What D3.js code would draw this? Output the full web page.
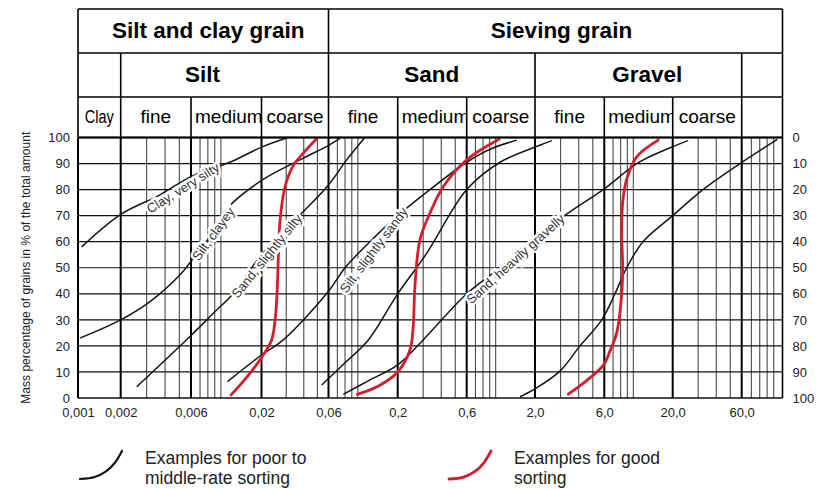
<!DOCTYPE html>
<html><head><meta charset="utf-8">
<script src="https://cdn.jsdelivr.net/npm/d3@7"></script>
<style>
body{margin:0;background:#fff;}
svg text{font-family:"Liberation Sans",Arial,Helvetica,sans-serif;}
</style></head><body>
<svg id="chart" width="821" height="489"></svg>
<script>
// ---------------- DATA ----------------
const boundaries = [0.001,0.002,0.006,0.02,0.06,0.2,0.6,2,6,20,60];
const maxD = 115;
const tickLabels = ["0,001","0,002","0,006","0,02","0,06","0,2","0,6","2,0","6,0","20,0","60,0"];
const minorTicks = [0.003,0.004,0.005,0.007,0.008,0.009,0.01,0.03,0.04,0.05,0.07,0.08,0.09,0.1,
  0.3,0.4,0.5,0.7,0.8,0.9,1,3,4,5,7,8,9,10,30,40,50,70,80,90,100];
const pctTicks = [0,10,20,30,40,50,60,70,80,90,100];

const headerRow1 = [
  {label:"Silt and clay grain", from:0.001, to:0.06},
  {label:"Sieving grain", from:0.06, to:maxD}
];
const headerRow2 = [
  {label:"", from:0.001, to:0.002},
  {label:"Silt", from:0.002, to:0.06},
  {label:"Sand", from:0.06, to:2},
  {label:"Gravel", from:2, to:60},
  {label:"", from:60, to:maxD}
];
const headerRow3 = [
  {label:"Clay", from:0.001, to:0.002},
  {label:"fine", from:0.002, to:0.006},
  {label:"medium", from:0.006, to:0.02},
  {label:"coarse", from:0.02, to:0.06},
  {label:"fine", from:0.06, to:0.2},
  {label:"medium", from:0.2, to:0.6},
  {label:"coarse", from:0.6, to:2},
  {label:"fine", from:2, to:6},
  {label:"medium", from:6, to:20},
  {label:"coarse", from:20, to:60},
  {label:"", from:60, to:maxD}
];

// grain size (mm), mass percentage passing (%)
const clayVerySilty = [[0.00106,58],[0.002,70.5],[0.0037,78],[0.006,85],[0.012,90.8],[0.02,96.3],[0.0302,99.8]];
const siltClayey = [[0.00103,23],[0.002,30],[0.00316,37],[0.00519,48],[0.006,52.5],[0.0083,62],[0.011,72.5],[0.02,83.5],[0.0376,91.4],[0.06,97],[0.0733,99.7]];
const sandSlightlySilty = [[0.00257,4.3],[0.006,24],[0.00878,32.5],[0.0124,40.2],[0.02,55],[0.0376,70.2],[0.06,81.8],[0.0823,91.4],[0.113,100]];
const siltSlightlySandy = [[0.0112,6.3],[0.02,16.5],[0.0286,22.3],[0.06,41],[0.08,50],[0.1235,60],[0.2,70],[0.334,80],[0.6,90.5],[0.905,95.5],[1.45,99]];
const curveA = [[0.0537,5],[0.08,13.5],[0.12,22.3],[0.2,40],[0.317,55.5],[0.6,80],[1.08,90.5],[2.16,97],[2.61,98.8]];
const sandHeavilyGravelly = [[0.0776,1.4],[0.119,6.5],[0.2,12.7],[0.3,22.3],[0.6,40],[1.08,50],[3.13,69.6],[5.9,80],[11.25,90.7],[25.6,98.8]];
const curveD = [[1.535,0.5],[2,3.5],[2.97,10.3],[4.08,20],[5.76,30],[7.24,40],[8.9,50],[11.86,60],[20,70],[32.4,80],[58.4,90],[105.8,99.3]];
const red1 = [[0.0119,1.2],[0.0153,7.5],[0.02,15.5],[0.0236,22.3],[0.025,30],[0.0258,40],[0.0264,55],[0.0271,68],[0.0294,81],[0.0335,89],[0.0397,94],[0.0494,99.5]];
const red2 = [[0.099,1.4],[0.142,4.5],[0.2,10],[0.243,18.4],[0.256,27.4],[0.263,42.7],[0.285,60.7],[0.334,70.9],[0.413,81.1],[0.6,91.4],[1.06,99.3]];
const red3 = [[3.39,1.5],[4.49,6.5],[5.9,12.5],[6.63,18],[7.46,25],[8.15,40],[8.29,50],[8.15,63],[8.29,75],[8.9,84],[10.6,92.6],[15.5,99]];

const blackCurves = [clayVerySilty, siltClayey, sandSlightlySilty, siltSlightlySandy, curveA, sandHeavilyGravelly, curveD];
const redCurves = [red1, red2, red3];

const curveLabels = [
  {text:"Clay, very silty", d:0.0053, p:80.6, angle:-32},
  {text:"Silt, clayey", d:0.0088, p:63, angle:-54},
  {text:"Sand, slightly silty", d:0.0218, p:54.5, angle:-51},
  {text:"Silt, slightly sandy", d:0.132, p:56.8, angle:-53},
  {text:"Sand, heavily gravelly", d:1.42, p:53.4, angle:-42}
];

const legendItems = [
  {color:"black", lines:["Examples for poor to","middle-rate sorting"]},
  {color:"red", lines:["Examples for good","sorting"]}
];
const legendGlyph = [[0,0],[0.35,0.07],[0.62,0.27],[0.83,0.58],[1,1]];

// ---------------- LAYOUT ----------------
const svg = d3.select("#chart");
const top0 = 9, r1 = 53, r2 = 97, plotTop = 137.5, plotBottom = 398;
const x = d3.scaleLog()
  .domain([...boundaries, maxD])
  .range([78,120.7,191,261.5,328.5,397.7,466.7,535,604.3,672.7,741.7,782.5]);
const y = d3.scaleLinear().domain([0,100]).range([plotBottom, plotTop]);
const yR = d3.scaleLinear().domain([100,0]).range([plotBottom, plotTop]);
const xL = x(0.001), xR = x(maxD);
const COLORS = {black:"#151515", red:"#d21f2d"};

// gridlines
const grid = svg.append("g");
grid.selectAll(".minor").data(minorTicks).join("line")
  .attr("x1", d=>x(d)).attr("x2", d=>x(d)).attr("y1", plotTop).attr("y2", plotBottom)
  .attr("stroke","#4a4a4a").attr("stroke-width",1.1);
grid.selectAll(".h").data(pctTicks).join("line")
  .attr("x1", xL).attr("x2", xR).attr("y1", d=>y(d)).attr("y2", d=>y(d))
  .attr("stroke","#111").attr("stroke-width", d=> (d===0||d===100)?1.6:1.2);
grid.selectAll(".major").data(boundaries).join("line")
  .attr("x1", d=>x(d)).attr("x2", d=>x(d)).attr("y1", plotTop).attr("y2", plotBottom)
  .attr("stroke","#000").attr("stroke-width",2);
grid.append("line").attr("x1",xR).attr("x2",xR).attr("y1",plotTop).attr("y2",plotBottom)
  .attr("stroke","#000").attr("stroke-width",1.6);

// curves
const line = d3.line().x(d=>x(d[0])).y(d=>y(d[1])).curve(d3.curveCatmullRom.alpha(0.5));
svg.append("g").selectAll("path").data(blackCurves).join("path")
  .attr("d", line).attr("fill","none").attr("stroke",COLORS.black).attr("stroke-width",1.5);
svg.append("g").selectAll("path").data(redCurves).join("path")
  .attr("d", line).attr("fill","none").attr("stroke",COLORS.red).attr("stroke-width",2.8)
  .attr("stroke-linecap","round");

// curve labels with white halo
svg.append("g").selectAll("text").data(curveLabels).join("text")
  .attr("transform", d=>`translate(${x(d.d)},${y(d.p)}) rotate(${d.angle})`)
  .attr("text-anchor","middle").attr("dominant-baseline","central")
  .attr("font-size",13).attr("fill","#333")
  .attr("stroke","#fff").attr("stroke-width",5).attr("paint-order","stroke")
  .text(d=>d.text);

// axes
const axL = svg.append("g").attr("transform",`translate(${xL},0)`)
  .call(d3.axisLeft(y).tickValues(pctTicks).tickSize(0).tickPadding(8));
const axR = svg.append("g").attr("transform",`translate(${xR},0)`)
  .call(d3.axisRight(yR).tickValues(pctTicks).tickSize(0).tickPadding(10));
const axB = svg.append("g").attr("transform",`translate(0,${plotBottom})`)
  .call(d3.axisBottom(x).tickValues(boundaries).tickFormat((d,i)=>tickLabels[i]).tickSize(0).tickPadding(10));
[axL,axR,axB].forEach(a=>{
  a.select(".domain").remove();
  a.selectAll("text").attr("font-size",13).attr("fill","#222")
   .style("font-family",'"Liberation Sans",Arial,sans-serif');
});

svg.append("text")
  .attr("transform",`translate(25,${(plotTop+plotBottom)/2}) rotate(-90)`)
  .attr("text-anchor","middle").attr("dominant-baseline","central")
  .attr("font-size",13.5).attr("fill","#222")
  .attr("textLength",272).attr("lengthAdjust","spacingAndGlyphs")
  .text("Mass percentage of grains in % of the total amount");

// header
const hdr = svg.append("g");
const nudge1 = [5,6], nudge2 = [0,-22,0,9,0];
hdr.selectAll(".t1").data(headerRow1).join("text")
  .attr("x",(d,i)=>(x(d.from)+x(d.to))/2+nudge1[i]).attr("y",38)
  .attr("text-anchor","middle").attr("font-size",22.5).attr("font-weight","bold").attr("fill","#000")
  .text(d=>d.label);
hdr.selectAll(".t2").data(headerRow2).join("text")
  .attr("x",(d,i)=>(x(d.from)+x(d.to))/2+nudge2[i]).attr("y",82)
  .attr("text-anchor","middle").attr("font-size",22.5).attr("font-weight","bold").attr("fill","#000")
  .text(d=>d.label);
const defs = svg.append("defs");
headerRow3.forEach((d,i)=>{
  defs.append("clipPath").attr("id","c3_"+i).append("rect")
    .attr("x",x(d.from)).attr("y",r2).attr("width",x(d.to)-x(d.from)).attr("height",plotTop-r2);
});
hdr.selectAll(".t3").data(headerRow3).join("text")
  .attr("clip-path",(d,i)=>`url(#c3_${i})`)
  .attr("x",d=> d.label==="medium" ? x(d.from)+4 : (x(d.from)+x(d.to))/2)
  .attr("y",123)
  .attr("text-anchor",d=> d.label==="medium" ? "start" : "middle")
  .attr("font-size",19).attr("fill","#000")
  .each(function(d){ if(d.label==="Clay") d3.select(this).attr("textLength",29).attr("lengthAdjust","spacingAndGlyphs"); })
  .text(d=>d.label);

// header borders
const hl = (x1,x2,y1,y2,w)=>hdr.append("line").attr("x1",x1).attr("x2",x2).attr("y1",y1).attr("y2",y2)
  .attr("stroke","#000").attr("stroke-width",w);
[top0,r1,r2].forEach(v=>hl(xL,xR,v,v,1.6));
hl(xL,xR,plotTop,plotTop,2);
hl(xL,xL,top0,plotTop,1.6); hl(xR,xR,top0,plotTop,1.6);
headerRow1.slice(1).forEach(d=>hl(x(d.from),x(d.from),top0,r1,1.6));
headerRow2.slice(1).forEach(d=>hl(x(d.from),x(d.from),r1,r2,1.6));
headerRow3.slice(1).forEach(d=>hl(x(d.from),x(d.from),r2,plotTop,1.6));

// legend
const gx = d3.scaleLinear().domain([0,1]).range([0,42]);
const gy = d3.scaleLinear().domain([0,1]).range([0,-28]);
const glyph = d3.line().x(d=>gx(d[0])).y(d=>gy(d[1])).curve(d3.curveCatmullRom);
const legendX = [80, 449], legendTextX = [145, 514];
const lg = svg.append("g").selectAll("g").data(legendItems).join("g");
lg.append("path").attr("transform",(d,i)=>`translate(${legendX[i]},479)`)
  .attr("d", glyph(legendGlyph)).attr("fill","none")
  .attr("stroke",d=>COLORS[d.color]).attr("stroke-width",d=>d.color==="red"?2.8:2.2)
  .attr("stroke-linecap","round");
lg.each(function(d,i){
  const g = d3.select(this);
  d.lines.forEach((t,j)=>{
    g.append("text").attr("x",legendTextX[i]).attr("y",464+j*19.5)
      .attr("font-size",17.5).attr("fill","#222").text(t);
  });
});
</script>
</body></html>
